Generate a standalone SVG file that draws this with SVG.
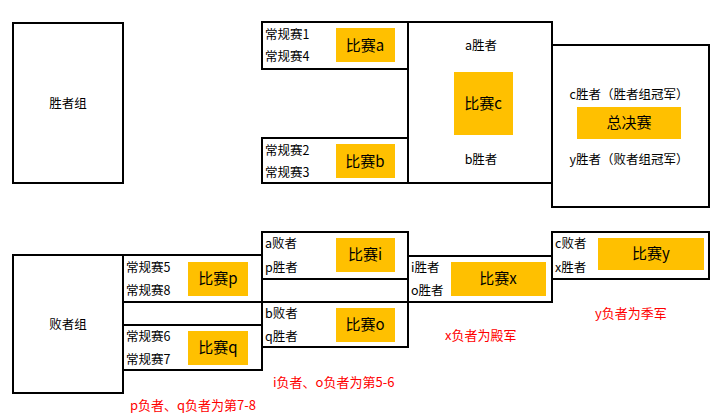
<svg xmlns="http://www.w3.org/2000/svg" width="723" height="418" viewBox="0 0 723 418">
<style>
.b{fill:none;stroke:#000;stroke-width:2}
.y{fill:#FFC000}
text{font-family:"Noto Sans CJK SC","Liberation Sans",sans-serif;font-size:12.5px;fill:#000}
.m{font-size:15px;text-anchor:middle}
.c{text-anchor:middle}
.r{fill:#FF0000;font-size:13px}
</style>
<rect width="723" height="418" fill="#fff"/>
<g id="winners"><rect class="b" x="13" y="23" width="110" height="160"/><text class="c" x="68" y="108">胜者组</text></g>
<g id="match-a"><rect class="b" x="262" y="22" width="146" height="47"/><text x="265" y="39">常规赛1</text><text x="265" y="61">常规赛4</text><rect class="y" x="336" y="28" width="59" height="34"/><text class="m" x="365" y="51">比赛a</text></g>
<g id="match-b"><rect class="b" x="262" y="138" width="146" height="45"/><text x="265" y="155">常规赛2</text><text x="265" y="177">常规赛3</text><rect class="y" x="336" y="144" width="59" height="34"/><text class="m" x="365" y="167">比赛b</text></g>
<g id="match-c"><rect class="b" x="408" y="22" width="144" height="161"/><text class="c" x="481" y="50">a胜者</text><rect class="y" x="454" y="72" width="59" height="63"/><text class="m" x="483" y="109">比赛c</text><text class="c" x="481" y="164">b胜者</text></g>
<g id="final"><rect class="b" x="552" y="45" width="157" height="162"/><text class="c" x="629" y="99">c胜者（胜者组冠军）</text><rect class="y" x="577" y="107" width="104" height="32"/><text class="m" x="629" y="128">总决赛</text><text class="c" x="629" y="164">y胜者（败者组冠军）</text></g>
<g id="losers"><rect class="b" x="13" y="255" width="110" height="138"/><text class="c" x="68" y="329">败者组</text></g>
<g id="match-p"><rect class="b" x="123" y="255" width="139" height="47"/><text x="126" y="272">常规赛5</text><text x="126" y="295">常规赛8</text><rect class="y" x="188" y="262" width="60" height="34"/><text class="m" x="218" y="284">比赛p</text></g>
<g id="match-q"><rect class="b" x="123" y="325" width="139" height="45"/><text x="126" y="341">常规赛6</text><text x="126" y="364">常规赛7</text><rect class="y" x="188" y="331" width="60" height="34"/><text class="m" x="218" y="353">比赛q</text></g>
<g id="match-i"><rect class="b" x="262" y="232" width="146" height="47"/><text x="265" y="248">a败者</text><text x="265" y="272">p胜者</text><rect class="y" x="336" y="238" width="59" height="34"/><text class="m" x="365" y="260">比赛i</text></g>
<g id="match-o"><rect class="b" x="262" y="302" width="146" height="45"/><text x="265" y="318">b败者</text><text x="265" y="341">q胜者</text><rect class="y" x="336" y="308" width="59" height="34"/><text class="m" x="365" y="330">比赛o</text></g>
<g id="match-x"><rect class="b" x="408" y="256" width="144" height="46"/><text x="411" y="272">i胜者</text><text x="411" y="295">o胜者</text><rect class="y" x="451" y="262" width="95" height="34"/><text class="m" x="498" y="284">比赛x</text></g>
<g id="match-y"><rect class="b" x="552" y="232" width="157" height="47"/><text x="555" y="248">c败者</text><text x="555" y="272">x胜者</text><rect class="y" x="598" y="238" width="106" height="32"/><text class="m" x="651" y="259">比赛y</text></g>
<g id="connectors"><line class="b" x1="123" y1="302" x2="123" y2="325"/><line class="b" x1="262" y1="279" x2="262" y2="302"/></g>
<g id="notes"><text class="r" x="595" y="318">y负者为季军</text><text class="r" x="445" y="340">x负者为殿军</text><text class="r" x="273" y="387">i负者、o负者为第5-6</text><text class="r" x="130" y="410">p负者、q负者为第7-8</text></g>
</svg>
